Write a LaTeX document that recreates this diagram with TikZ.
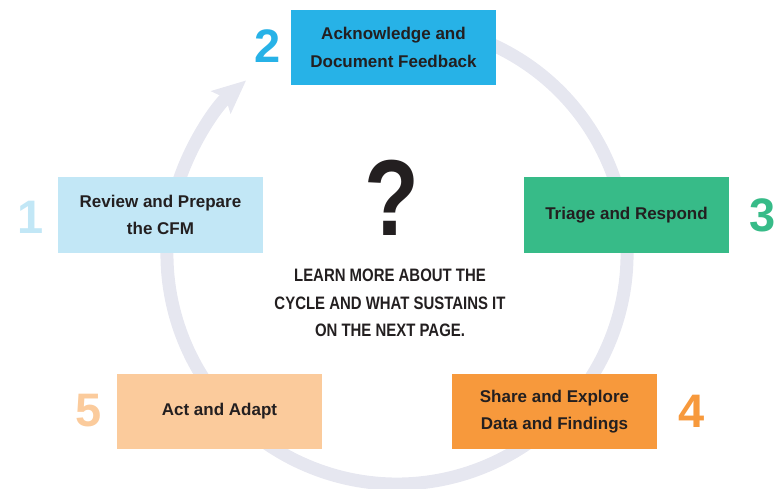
\documentclass[tikz,border=0pt]{standalone}
\usepackage{fontspec}
\setmainfont{Liberation Sans}
\newfontfamily\condfont[FakeStretch=0.83]{Liberation Sans}
\usetikzlibrary{arrows.meta}

\definecolor{inkdark}{HTML}{231F20}
\definecolor{ringgray}{HTML}{E6E7F0}
\definecolor{paleblue}{HTML}{C2E7F6}
\definecolor{skyblue}{HTML}{27B2E7}
\definecolor{mintgreen}{HTML}{37BB88}
\definecolor{deeporange}{HTML}{F7993C}
\definecolor{paleorange}{HTML}{FBCB9C}

\tikzset{
  stepbox/.style={rectangle, draw=none, minimum width=205pt, minimum height=75pt,
    inner sep=0pt, align=center, text=inkdark,
    font=\fontsize{17}{27.5}\selectfont\bfseries},
  stepnum/.style={inner sep=0pt, font=\fontsize{47}{47}\selectfont\bfseries},
  cycle ring/.style={line width=13pt, draw=ringgray,
    -{Stealth[length=33pt,width=29pt,inset=6pt]}}
}

\begin{document}
\begin{tikzpicture}[x=1pt,y=1pt]
  \useasboundingbox (0,0) rectangle (776,488);

  % centre of the cycle ring
  \coordinate (hub) at (397,234);

  % the ring, running clockwise from behind step 2 round to the arrow head
  \draw[cycle ring] ([shift={(70:230)}]hub) arc[start angle=70, end angle=-229, radius=230];

  % steps of the cycle
  \node[stepbox, fill=paleblue]   (s1) at (160.5,273)   {Review and Prepare\\the CFM};
  \node[stepbox, fill=skyblue]    (s2) at (393.5,440.5) {Acknowledge and\\Document Feedback};
  \node[stepbox, fill=mintgreen]  (s3) at (626.5,273)   {Triage and Respond};
  \node[stepbox, fill=deeporange] (s4) at (554.5,76.5)  {Share and Explore\\Data and Findings};
  \node[stepbox, fill=paleorange] (s5) at (219.5,76.5)  {Act and Adapt};

  % step numbers
  \node[stepnum, text=paleblue]   (n1) at (31,271)  {1};
  \node[stepnum, text=skyblue]    (n2) at (268,442) {2};
  \node[stepnum, text=mintgreen]  (n3) at (763,273) {3};
  \node[stepnum, text=deeporange] (n4) at (692,77)  {4};
  \node[stepnum, text=paleorange] (n5) at (89,77)   {5};

  % centre: question mark and note
  \node[inner sep=0pt, text=inkdark, font=\condfont\fontsize{108}{108}\selectfont\bfseries]
    (qmark) at (392,290) {?};
  \node[inner sep=0pt, align=center, text=inkdark,
        font=\condfont\fontsize{18}{27.5}\selectfont\bfseries]
    (note) at (390,185) {LEARN MORE ABOUT THE\\CYCLE AND WHAT SUSTAINS IT\\ON THE NEXT PAGE.};
\end{tikzpicture}
\end{document}
